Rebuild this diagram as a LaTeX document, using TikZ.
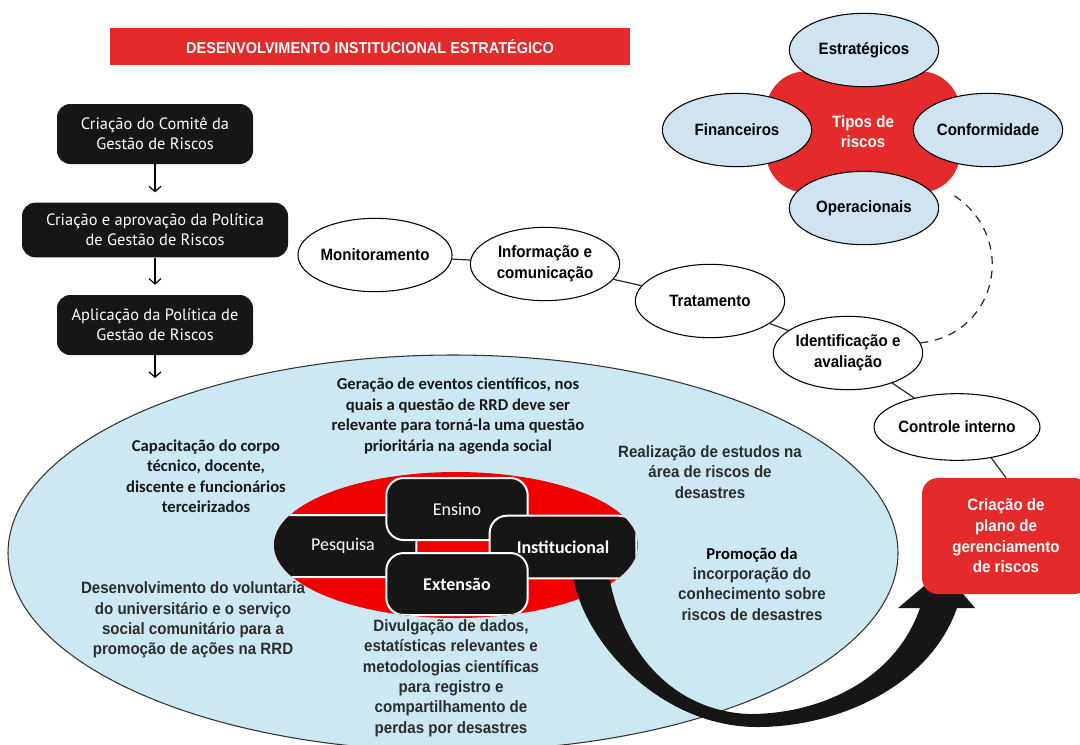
\documentclass[tikz,border=0pt]{standalone}
\usepackage{fontspec}
\setmainfont{Carlito}
\newfontfamily\franklin{Liberation Sans}[FakeStretch=0.92]
\newfontfamily\myriad{PT Sans}
\usetikzlibrary{arrows.meta,shapes.geometric}
\definecolor{vermelho}{RGB}{228,42,42}
\definecolor{vermelhovivo}{RGB}{240,0,0}
\definecolor{azulclaro}{RGB}{207,227,241}
\definecolor{azulcampo}{RGB}{204,232,242}
\definecolor{quasepreto}{RGB}{22,22,22}
\definecolor{cinzatexto}{RGB}{45,45,45}
\tikzset{
    passo/.style={rectangle, rounded corners=10pt, fill=quasepreto, text=white, align=center, inner sep=0pt, minimum height=45pt, font=\myriad\fontsize{12.3}{15}\selectfont},
    etapa/.style={ellipse, draw=black, fill=white, line width=0.8pt, inner sep=0pt, minimum width=112pt, minimum height=55pt, align=center, font=\franklin\bfseries\fontsize{12.3}{15.5}\selectfont},
    tipo/.style={etapa, fill=azulclaro},
    eixo/.style={rectangle, rounded corners=13pt, draw=white, line width=1.5pt, fill=quasepreto, text=white, inner sep=0pt, minimum width=106pt, minimum height=46.5pt, font=\fontsize{13.5}{16}\selectfont},
    acao/.style={align=center, text=cinzatexto, font=\franklin\bfseries\fontsize{12.3}{15.3}\selectfont},
    acaoc/.style={align=center, text=black!90, font=\bfseries\fontsize{12.5}{15.3}\selectfont},
    liga/.style={draw=black!85, line width=0.9pt}
}

\begin{document}
\begin{tikzpicture}
  [
    x                       = 0.75pt,
    y                       = -0.75pt,
    >                       = {Straight Barb[length=4pt, width=9pt]},
  ]
  \useasboundingbox (0,0) rectangle (1080,744);
  \clip (0,0) rectangle (1080,744);

  \node [fill=vermelho, minimum width=390pt, minimum height=27.75pt, inner sep=0pt, text=white, font=\franklin\bfseries\fontsize{11.8}{13}\selectfont] (titulo) at (370,46.5) {DESENVOLVIMENTO INSTITUCIONAL ESTRATÉGICO};

  \node [passo, minimum width=147pt] (comite) at (155,134) {Criação do Comitê da\\Gestão de Riscos};
  \node [passo, minimum width=199.5pt, minimum height=41pt] (politica) at (155,230) {Criação e aprovação da Política\\de Gestão de Riscos};
  \node [passo, minimum width=147pt] (aplicacao) at (155,325) {Aplicação da Política de\\Gestão de Riscos};
  \coordinate (fimseta) at (155,378);
  \draw [->, line width=0.9pt, shorten >=7.5pt] (comite) -- (politica);
  \draw [->, line width=0.9pt, shorten >=7.5pt] (politica) -- (aplicacao);
  \draw [->, line width=0.9pt] (aplicacao) -- (fimseta);

  % campo das acoes
  \node [ellipse, draw=black!80, fill=azulcampo, line width=0.8pt, inner sep=0pt, minimum width=667.5pt, minimum height=297pt] (campo) at (453,553) {};
  \node [ellipse, fill=vermelhovivo, inner sep=0pt, minimum width=273pt, minimum height=109.5pt] (nucleo) at (456,545) {};
  \fill [quasepreto] (572,570) .. controls (580,640) and (660,727) .. (757,727)
    .. controls (840,727) and (930,685) .. (957,608) -- (975,608) -- (943,570) -- (898,608) -- (920,608)
    .. controls (895,680) and (820,714) .. (750,714)
    .. controls (680,712) and (622,660) .. (608,570) -- cycle;
  \begin{scope}
    \clip (456,545) ellipse [x radius=136.5pt, y radius=54.75pt];
    \node [eixo, minimum width=110pt] (pesquisa) at (343,546) {Pesquisa};
    \node [eixo] (ensino) at (457,509) {Ensino};
    \node [eixo, minimum width=110pt, minimum height=47pt, font=\bfseries\fontsize{13.5}{16}\selectfont] (institucional) at (563,547) {Institucional};
    \node [eixo, font=\bfseries\fontsize{13.5}{16}\selectfont] (extensao) at (457,584) {Extensão};
  \end{scope}

  \node [acaoc] (geracao) at (458,416) {Geração de eventos científicos, nos\\quais a questão de RRD deve ser\\relevante para torná-la uma questão\\prioritária na agenda social};
  \node [acaoc] (capacitacao) at (206,476) {Capacitação do corpo\\técnico, docente,\\discente e funcionários\\terceirizados};
  \node [acao] (estudos) at (710,472) {Realização de estudos na\\área de riscos de\\desastres};
  \node [acao] (promocao) at (752,584) {{\normalfont\bfseries\fontsize{12.5}{15.3}\selectfont\color{black}Promoção da}\\incorporação do\\conhecimento sobre\\riscos de desastres};
  \node [acao] (voluntariado) at (193,620) {Desenvolvimento do voluntaria\\do universitário e o serviço\\social comunitário para a\\promoção de ações na RRD};
  \node [acao] (divulgacao) at (451,678) {Divulgação de dados,\\estatísticas relevantes e\\metodologias científicas\\para registro e\\compartilhamento de\\perdas por desastres};

  % ciclo da gestao
  \node [etapa] (monitoramento) at (375,255) {Monitoramento};
  \node [etapa] (informacao) at (545,264) {Informação e\\comunicação};
  \node [etapa] (tratamento) at (710,301) {Tratamento};
  \node [etapa] (identificacao) at (848,353) {Identificação e\\avaliação};
  \node [etapa, minimum height=50pt] (controle) at (957,427) {Controle interno};

  \node [rectangle, rounded corners=30pt, fill=vermelho, minimum width=145.5pt, minimum height=91pt, text=white, align=center, font=\franklin\bfseries\fontsize{12.3}{15}\selectfont] (tipos) at (863,132) {Tipos de\\riscos};
  \node [tipo] (estrategicos) at (864,50) {Estratégicos};
  \node [tipo] (financeiros) at (737,130) {Financeiros};
  \node [tipo] (conformidade) at (988,130) {Conformidade};
  \node [tipo] (operacionais) at (864,208) {Operacionais};

  \node [rectangle, rounded corners=12pt, fill=vermelho, minimum width=126pt, minimum height=87pt, text=white, align=center, font=\franklin\bfseries\fontsize{12.3}{15.5}\selectfont] (plano) at (1006,536) {Criação de\\plano de\\gerenciamento\\de riscos};

  \draw [liga] (monitoramento) -- (informacao);
  \draw [liga] (informacao) -- (tratamento);
  \draw [liga] (tratamento) -- (identificacao);
  \draw [liga] (identificacao) -- (controle);
  \draw [liga] (controle.-42) -- (plano.north);
  \draw [liga, dash pattern=on 6pt off 5pt] (identificacao.8) .. controls (998,335) and (1020,235) .. (tipos.-35);
\end{tikzpicture}
\end{document}
